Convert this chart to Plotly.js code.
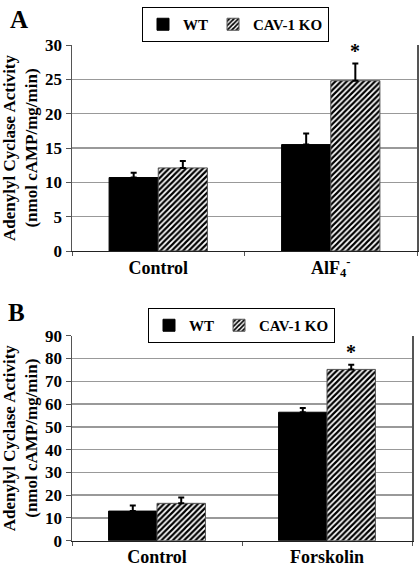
<!DOCTYPE html>
<html>
<head>
<meta charset="utf-8">
<script src="https://cdn.plot.ly/plotly-3.0.1.min.js"></script>
<style>
html,body{margin:0;padding:0;background:#fff;}
#chart{width:420px;height:567px;}
</style>
</head>
<body>
<div id="chart"></div>
<script>
// ---- Data ----
const categoriesA = ['Control', 'AlF<sub>4</sub><sup>-</sup>'];
const wtA = [10.7, 15.5];
const wtAErr = [0.7, 1.6];
const koA = [12.1, 24.8];
const koAErr = [1.0, 2.5];
const sigA = [false, true];

const categoriesB = ['Control', 'Forskolin'];
const wtB = [13.0, 56.4];
const wtBErr = [2.4, 1.9];
const koB = [16.4, 75.2];
const koBErr = [2.6, 2.0];
const sigB = [false, true];

const seriesNames = ['WT', 'CAV-1 KO'];
const yTitle = 'Adenylyl Cyclase Activity<br>(nmol cAMP/mg/min)';
const panelLabels = ['A', 'B'];

// ---- Style ----
const FONT = 'Liberation Serif, Times New Roman, serif';
const W = 420, H = 567;
const bargap = 0.43;
const domA = {x: [72 / W, 417 / W], y: [1 - 251 / H, 1 - 45 / H]};
const domB = {x: [72 / W, 412 / W], y: [1 - 540.7 / H, 1 - 335.7 / H]};

function zeros(n) { return new Array(n).fill(0); }

function wtTrace(x, y, err, xa, ya, leg) {
  return {
    type: 'bar', name: seriesNames[0], x: x, y: y, xaxis: xa, yaxis: ya, legend: leg,
    marker: {color: '#000', line: {color: '#000', width: 1}},
    error_y: {type: 'data', array: err, arrayminus: zeros(err.length), symmetric: false,
              color: '#000', thickness: 2, width: 3},
    hoverinfo: 'y'
  };
}
function koTrace(x, y, err, xa, ya, leg) {
  return {
    type: 'bar', name: seriesNames[1], x: x, y: y, xaxis: xa, yaxis: ya, legend: leg,
    marker: {color: '#fff', line: {color: '#555', width: 1},
             pattern: {shape: '/', fgcolor: '#000', bgcolor: '#fff', size: 4, solidity: 0.55}},
    error_y: {type: 'data', array: err, arrayminus: zeros(err.length), symmetric: false,
              color: '#000', thickness: 2, width: 3},
    hoverinfo: 'y'
  };
}

const data = [
  wtTrace(categoriesA, wtA, wtAErr, 'x', 'y', 'legend'),
  koTrace(categoriesA, koA, koAErr, 'x', 'y', 'legend'),
  wtTrace(categoriesB, wtB, wtBErr, 'x2', 'y2', 'legend2'),
  koTrace(categoriesB, koB, koBErr, 'x2', 'y2', 'legend2')
];

function xAxis(dom, anchor) {
  return {
    domain: dom, anchor: anchor, type: 'category',
    showline: true, linecolor: '#222', linewidth: 1,
    ticks: 'outside', tickson: 'boundaries', ticklen: 4, tickcolor: '#555',
    showgrid: false, zeroline: false,
    tickfont: {family: FONT, size: 18, color: '#000', weight: 'bold'},
    fixedrange: true
  };
}
function yAxis(dom, anchor, range, dtick) {
  return {
    domain: dom, anchor: anchor, range: range, dtick: dtick,
    showline: true, mirror: true, linecolor: '#555', linewidth: 1.5,
    ticks: 'outside', ticklen: 5, tickcolor: '#555',
    showgrid: true, gridcolor: '#999', gridwidth: 1.5, zeroline: false,
    tickfont: {family: FONT, size: 17, color: '#000', weight: 'bold'},
    title: {text: yTitle, font: {family: FONT, size: 17, color: '#000', weight: 'bold'}, standoff: 4},
    fixedrange: true
  };
}

// Asterisks above KO bars (offset to KO bar center)
function starAnnotations(cats, vals, errs, sig, xa, ya, dom) {
  const plotW = (dom.x[1] - dom.x[0]) * W;
  const catW = plotW / cats.length;
  const barW = catW * (1 - bargap) / 2;
  const out = [];
  cats.forEach((c, i) => {
    if (sig[i]) {
      out.push({x: i, y: vals[i] + errs[i], xref: xa, yref: ya, text: '*',
        showarrow: false, xshift: barW / 2, yanchor: 'bottom', yshift: 0,
        font: {family: FONT, size: 20, color: '#000', weight: 'bold'}});
    }
  });
  return out;
}

const legendBase = {
  orientation: 'h', xanchor: 'left', yanchor: 'top',
  bordercolor: '#000', borderwidth: 1, bgcolor: '#fff',
  font: {family: FONT, size: 15, color: '#000', weight: 'bold'},
  traceorder: 'normal', itemwidth: 30, tracegroupgap: 0
};

const layout = {
  width: W, height: H,
  margin: {l: 0, r: 0, t: 0, b: 0},
  paper_bgcolor: '#fff', plot_bgcolor: '#fff',
  barmode: 'group', bargap: bargap, bargroupgap: 0,
  showlegend: true,
  xaxis: xAxis(domA.x, 'y'),
  yaxis: yAxis(domA.y, 'x', [0, 30], 5),
  xaxis2: xAxis(domB.x, 'y2'),
  yaxis2: yAxis(domB.y, 'x2', [0, 90], 10),
  legend: Object.assign({}, legendBase, {x: 142 / W, y: 1 - 7 / H}),
  legend2: Object.assign({}, legendBase, {x: 148 / W, y: 1 - 308 / H}),
  annotations: [
    {text: panelLabels[0], xref: 'paper', yref: 'paper', x: 8 / W, y: 1 - 4 / H,
     xanchor: 'left', yanchor: 'top', showarrow: false,
     font: {family: FONT, size: 25, color: '#000', weight: 'bold'}},
    {text: panelLabels[1], xref: 'paper', yref: 'paper', x: 6 / W, y: 1 - 297 / H,
     xanchor: 'left', yanchor: 'top', showarrow: false,
     font: {family: FONT, size: 25, color: '#000', weight: 'bold'}}
  ].concat(starAnnotations(categoriesA, koA, koAErr, sigA, 'x', 'y', domA))
   .concat(starAnnotations(categoriesB, koB, koBErr, sigB, 'x2', 'y2', domB))
};

Plotly.newPlot('chart', data, layout, {displayModeBar: false, staticPlot: true});
</script>
</body>
</html>
